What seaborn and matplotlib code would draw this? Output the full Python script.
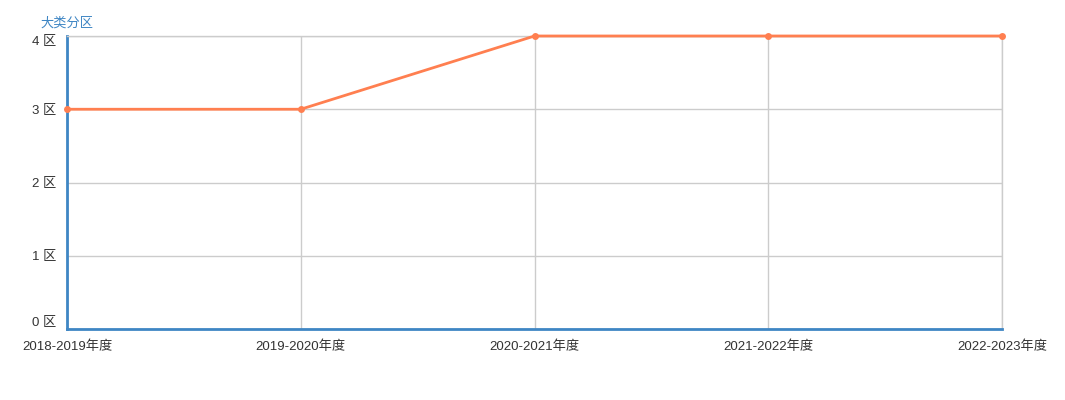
import seaborn as sns
import matplotlib.pyplot as plt
import pandas as pd

# data
seasons = ["2018-2019年度", "2019-2020年度", "2020-2021年度", "2021-2022年度", "2022-2023年度"]
zones = [3, 3, 4, 4, 4]
ytick_labels = ["0 区", "1 区", "2 区", "3 区", "4 区"]

sns.set_theme(style="white")
plt.rcParams["font.family"] = ["Liberation Sans", "Noto Sans CJK SC", "DejaVu Sans"]

df = pd.DataFrame({"season": seasons, "zone": zones})

fig = plt.figure(figsize=(10.65, 4), dpi=100)
ax = fig.add_axes([67 / 1065, 1 - 329 / 400, (1002 - 67) / 1065, (329 - 36) / 400])

sns.lineplot(data=df, x="season", y="zone", sort=False, ax=ax, color="#ff7f50",
             linewidth=2, marker="o", markersize=5, markeredgewidth=0, zorder=5, clip_on=False)

ax.set_xlim(0, len(seasons) - 1)
ax.set_ylim(0, 4)
ax.set_yticks(range(5))
ax.set_yticklabels(ytick_labels)
ax.set_xlabel("")
ax.set_ylabel("")

ax.grid(True, color="#cccccc", linewidth=1)
ax.set_axisbelow(True)

for s in ["top", "right"]:
    ax.spines[s].set_color("#cccccc")
    ax.spines[s].set_linewidth(1)
for s in ["left", "bottom"]:
    ax.spines[s].set_color("#3f86c4")
    ax.spines[s].set_linewidth(2)

ax.tick_params(axis="x", length=4, width=1, color="#333333", labelsize=9.5, labelcolor="#333333", pad=4)
ax.tick_params(axis="y", length=0, labelsize=9.5, labelcolor="#333333", pad=8)

ylabels = ax.get_yticklabels()
ylabels[0].set_va("bottom")
ylabels[-1].set_va("top")

ax.text(40 / 1065, 1 - 23 / 400, "大类分区", transform=fig.transFigure, color="#3f86c4",
        fontsize=9.5, va="center", ha="left")

fig.savefig("out.png", dpi=100)
